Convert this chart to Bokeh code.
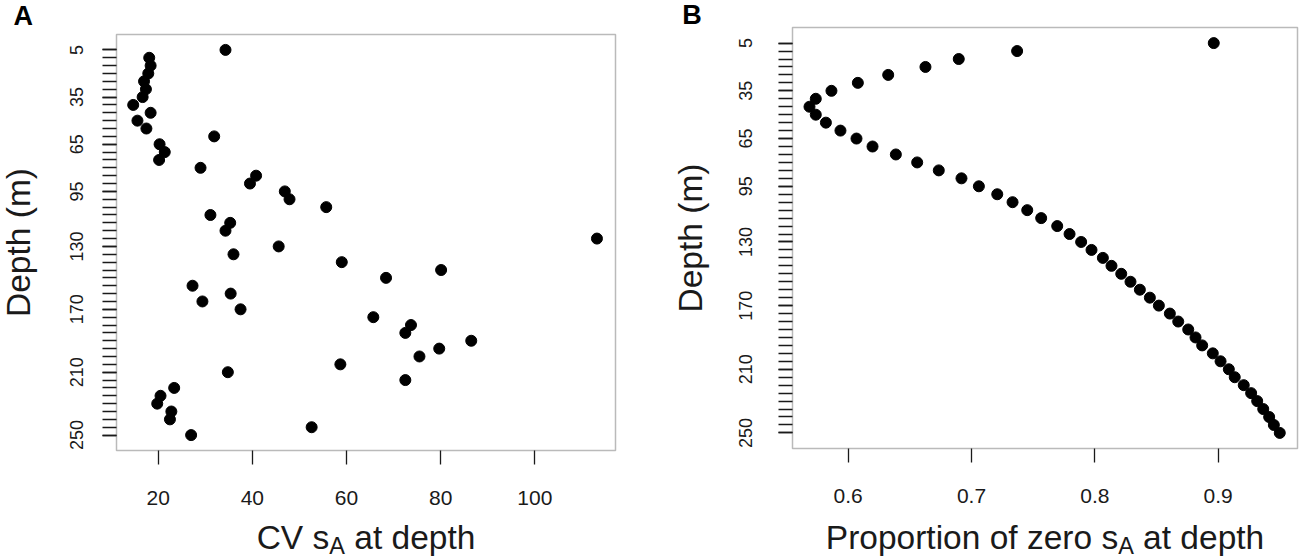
import math
from bokeh.plotting import figure
from bokeh.models import Range1d, FixedTicker, Label, BoxAnnotation
from bokeh.layouts import row
from bokeh.embed import file_html
from bokeh.resources import INLINE

# ---------------- data ----------------
depth = list(range(5, 255, 5))
cv_sa = [34.3, 18.1, 18.4, 17.9, 17.0, 17.4, 16.7, 14.7, 18.4, 15.6,
         17.5, 31.9, 20.3, 21.4, 20.2, 29.0, 40.8, 39.5, 46.9, 47.9,
         55.7, 31.1, 35.3, 34.3, 113.2, 45.6, 36.0, 59.0, 80.1, 68.4,
         27.3, 35.4, 29.4, 37.5, 65.7, 73.7, 72.5, 86.5, 79.7, 75.5,
         58.7, 34.8, 72.5, 23.4, 20.5, 19.8, 22.8, 22.5, 52.6, 27.0]
prop_zero = [0.8964, 0.7370, 0.6897, 0.6627, 0.6325, 0.6079, 0.5865, 0.5738, 0.5687, 0.5738,
             0.5820, 0.5938, 0.6068, 0.6198, 0.6387, 0.6560, 0.6735, 0.6919, 0.7060, 0.7209,
             0.7333, 0.7452, 0.7565, 0.7695, 0.7795, 0.7889, 0.7973, 0.8065, 0.8135, 0.8214,
             0.8289, 0.8365, 0.8446, 0.8519, 0.8608, 0.8676, 0.8757, 0.8816, 0.8870, 0.8956,
             0.9019, 0.9086, 0.9134, 0.9207, 0.9267, 0.9316, 0.9365, 0.9413, 0.9451, 0.9499]
depth_tick_labels = [5, 35, 65, 95, 130, 170, 210, 250]
cv_ticks = [20, 40, 60, 80, 100]
prop_ticks = [0.6, 0.7, 0.8, 0.9]

# plot-region limits (R style: data range padded by 4%)
DEPTH_LIM = (-4.8, 259.8)
CV_LIM = (11.15, 117.14)
PROP_LIM = (0.55493, 0.96427)

FONT = "Liberation Sans"
INK = "#1a1a1a"
H = 560
TITLE_FS = 33.5
SUB_FS = 23.5
LETTER_FS = 27
BASE_K = 0.35   # Label anchor sits this many em above the drawn baseline

# Arial / Liberation Sans advance widths (1/1000 em)
AW = {" ": 278, "C": 722, "V": 667, "s": 500, "A": 667, "a": 556, "t": 278, "d": 556,
      "e": 556, "p": 556, "h": 556, "P": 667, "r": 333, "o": 556, "i": 222, "n": 556,
      "f": 278, "z": 500}


def tw(s, fs):
    return sum(AW[c] for c in s) / 1000.0 * fs


class Panel:
    def __init__(self, width, box, xlim, xticks, ylab_standoff):
        """box = (left, right, top, bottom) pixel edges of the plot region in this canvas."""
        self.box = box
        self.xlim = xlim
        bl, br, bt, bb = box
        self.sx = (br - bl) / (xlim[1] - xlim[0])
        self.sy = (bb - bt) / (DEPTH_LIM[1] - DEPTH_LIM[0])
        xr = Range1d(xlim[0] - bl / self.sx, xlim[1] + (width - br) / self.sx)
        yr = Range1d(DEPTH_LIM[1] + (H - bb) / self.sy, DEPTH_LIM[0] - bt / self.sy)
        p = figure(frame_width=width, frame_height=H, x_range=xr, y_range=yr,
                   title=None, output_backend="svg", toolbar_location=None,
                   min_border_left=0, min_border_right=0, min_border_top=0,
                   min_border_bottom=0, background_fill_color="white",
                   border_fill_color="white", outline_line_color=None)
        p.xgrid.visible = False
        p.ygrid.visible = False

        xa = p.xaxis[0]
        xa.fixed_location = DEPTH_LIM[1]
        xa.ticker = FixedTicker(ticks=xticks)
        xa.axis_line_color = None
        xa.major_tick_out = 14
        xa.major_tick_in = 0
        xa.minor_tick_out = 0
        xa.minor_tick_in = 0
        xa.major_tick_line_color = INK
        xa.major_tick_line_width = 1.3
        xa.major_label_text_font = FONT
        xa.major_label_text_font_size = "21px"
        xa.major_label_text_color = INK
        xa.major_label_standoff = 26

        ya = p.yaxis[0]
        ya.fixed_location = xlim[0]
        ya.ticker = FixedTicker(ticks=depth_tick_labels, minor_ticks=depth)
        ya.axis_line_color = None
        ya.major_tick_out = 14
        ya.major_tick_in = 0
        ya.minor_tick_out = 14
        ya.minor_tick_in = 0
        ya.major_tick_line_color = INK
        ya.minor_tick_line_color = INK
        ya.major_tick_line_width = 1.3
        ya.minor_tick_line_width = 1.3
        ya.major_label_orientation = "vertical"
        ya.major_label_text_font = FONT
        ya.major_label_text_font_size = "18px"
        ya.major_label_text_color = INK
        ya.major_label_standoff = ylab_standoff

        p.add_layout(BoxAnnotation(left=xlim[0], right=xlim[1], top=DEPTH_LIM[0],
                                   bottom=DEPTH_LIM[1], fill_color=None, fill_alpha=0,
                                   line_color=INK, line_width=1.5))
        self.p = p

    def to_data(self, px, py):
        bl, br, bt, bb = self.box
        return (self.xlim[0] + (px - bl) / self.sx,
                DEPTH_LIM[0] + (py - bt) / self.sy)

    def label(self, px, py, text, size, **kw):
        x, y = self.to_data(px, py)
        self.p.add_layout(Label(x=x, y=y, text=text, text_font=FONT,
                                text_font_size="%spx" % size, **kw))

    def titles(self, letter, letter_pos, ytitle_x, xtitle_pre, xbase=548.5):
        bl, br, bt, bb = self.box
        # panel letter (baseline at letter_pos[1])
        self.label(letter_pos[0], letter_pos[1] - BASE_K * LETTER_FS, letter, LETTER_FS,
                   text_font_style="bold", text_color="black", text_align="left",
                   text_baseline="alphabetic")
        # rotated y title, baseline at x = ytitle_x
        self.label(ytitle_x - BASE_K * TITLE_FS, (bt + bb) / 2.0, "Depth (m)", TITLE_FS,
                   text_color=INK, angle=math.pi / 2, text_align="center",
                   text_baseline="alphabetic")
        # x title with subscript A
        post = "at depth"
        w1 = tw(xtitle_pre, TITLE_FS)
        w2 = tw("A", SUB_FS)
        wsp = tw(" ", TITLE_FS)
        w3 = tw(post, TITLE_FS)
        x0 = (bl + br) / 2.0 - (w1 + w2 + wsp + w3) / 2.0
        yb = xbase - BASE_K * TITLE_FS
        ys = xbase + 5.5 - BASE_K * SUB_FS
        self.label(x0, yb, xtitle_pre, TITLE_FS, text_color=INK,
                   text_align="left", text_baseline="alphabetic")
        self.label(x0 + w1, ys, "A", SUB_FS, text_color=INK,
                   text_align="left", text_baseline="alphabetic")
        self.label(x0 + w1 + w2 + wsp, yb, post, TITLE_FS, text_color=INK,
                   text_align="left", text_baseline="alphabetic")


# Panel A (canvas x 0..650)
A = Panel(650, (116, 615, 34, 450), CV_LIM, cv_ticks, 19)
A.p.scatter(cv_sa, depth, size=11, color="black", marker="circle")
A.titles("A", (13, 25), 30, "CV s")

# Panel B (canvas x 650..1299)
B = Panel(649, (142, 647, 27, 448), PROP_LIM, prop_ticks, 26)
B.p.scatter(prop_zero, depth, size=11, color="black", marker="circle")
B.titles("B", (31.7, 24), 52, "Proportion of zero s")

layout = row(A.p, B.p)
open("out.html", "w").write(file_html(layout, INLINE))
